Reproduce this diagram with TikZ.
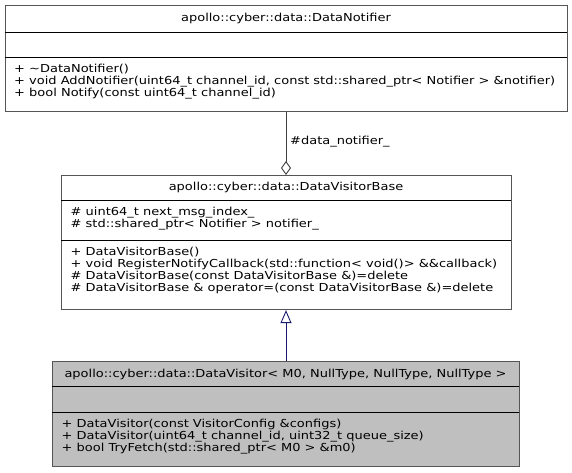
\documentclass[tikz,border=0pt]{standalone}
\usepackage{fontspec}
\setmainfont{DejaVu Sans}[FakeStretch=1.18]
\usetikzlibrary{arrows.meta}
\definecolor{boxedge}{HTML}{555555}
\definecolor{edgegray}{HTML}{404040}
\definecolor{boxfill}{HTML}{BFBFBF}
\definecolor{inhblue}{HTML}{191970}
\newcommand{\firstline}{\rule{0pt}{9.5pt}}
\tikzset{
  classbox/.style={draw=boxedge, line width=1.1pt, inner sep=0pt, anchor=north west},
  sep/.style={draw=black, line width=0.8pt},
  title/.style={font=\fontsize{11}{12}\selectfont, inner sep=0pt},
  members/.style={font=\fontsize{11}{12}\selectfont, inner sep=0pt, align=left, anchor=north west},
  aggr/.style={draw=edgegray, line width=0.9pt, {Diamond[open, length=14pt, width=10pt, line width=0.9pt]}-},
  inherit/.style={draw=inhblue, line width=0.9pt, -{Triangle[open, length=13pt, width=11pt, line width=0.9pt]}},
  lbl/.style={font=\fontsize{11}{12}\selectfont, inner sep=0pt, anchor=west}
}
\begin{document}
\begin{tikzpicture}[x=1pt, y=-1pt]
\useasboundingbox (0,0) rectangle (572,472);
\fill[white] (0,0) rectangle (572,472);

% DataNotifier
\node[classbox, minimum width=562.5pt, minimum height=106pt] (notif) at (4.5,5) {};
\draw[sep] (4.5,32) -- (567,32);
\draw[sep] (4.5,57) -- (567,57);
\node[title] (notifT) at (286,18.5) {apollo::cyber::data::DataNotifier};
\node[members] (notifM) at (14,63) {\firstline+ \textasciitilde DataNotifier()\\
+ void AddNotifier(uint64\_t channel\_id, const std::shared\_ptr< Notifier > \&notifier)\\
+ bool Notify(const uint64\_t channel\_id)};

% DataVisitorBase
\node[classbox, minimum width=450pt, minimum height=134pt] (base) at (61,175) {};
\draw[sep] (61,200) -- (511,200);
\draw[sep] (61,240) -- (511,240);
\node[title] (baseT) at (286,187.5) {apollo::cyber::data::DataVisitorBase};
\node[members] (baseA) at (70.5,205.5) {\firstline\# uint64\_t next\_msg\_index\_\\
\# std::shared\_ptr< Notifier > notifier\_};
\node[members] (baseM) at (70.5,246) {\firstline+ DataVisitorBase()\\
+ void RegisterNotifyCallback(std::function< void()> \&\&callback)\\
\# DataVisitorBase(const DataVisitorBase \&)=delete\\
\# DataVisitorBase \& operator=(const DataVisitorBase \&)=delete};

% DataVisitor
\node[classbox, fill=boxfill, minimum width=467pt, minimum height=105pt] (visitor) at (52,361) {};
\draw[sep] (52,386) -- (519,386);
\draw[sep] (52,412) -- (519,412);
\node[title] (visitorT) at (285.5,374) {apollo::cyber::data::DataVisitor< M0, NullType, NullType, NullType >};
\node[members] (visitorM) at (61.5,418) {\firstline+ DataVisitor(const VisitorConfig \&configs)\\
+ DataVisitor(uint64\_t channel\_id, uint32\_t queue\_size)\\
+ bool TryFetch(std::shared\_ptr< M0 > \&m0)};

% connectors
\draw[aggr] (base.north -| 286,0) -- (notif.south -| 286,0);
\node[lbl] (aggrL) at (290,142) {\#data\_notifier\_};
\draw[inherit] (visitor.north -| 286,0) -- (base.south -| 286,0);
\end{tikzpicture}
\end{document}
